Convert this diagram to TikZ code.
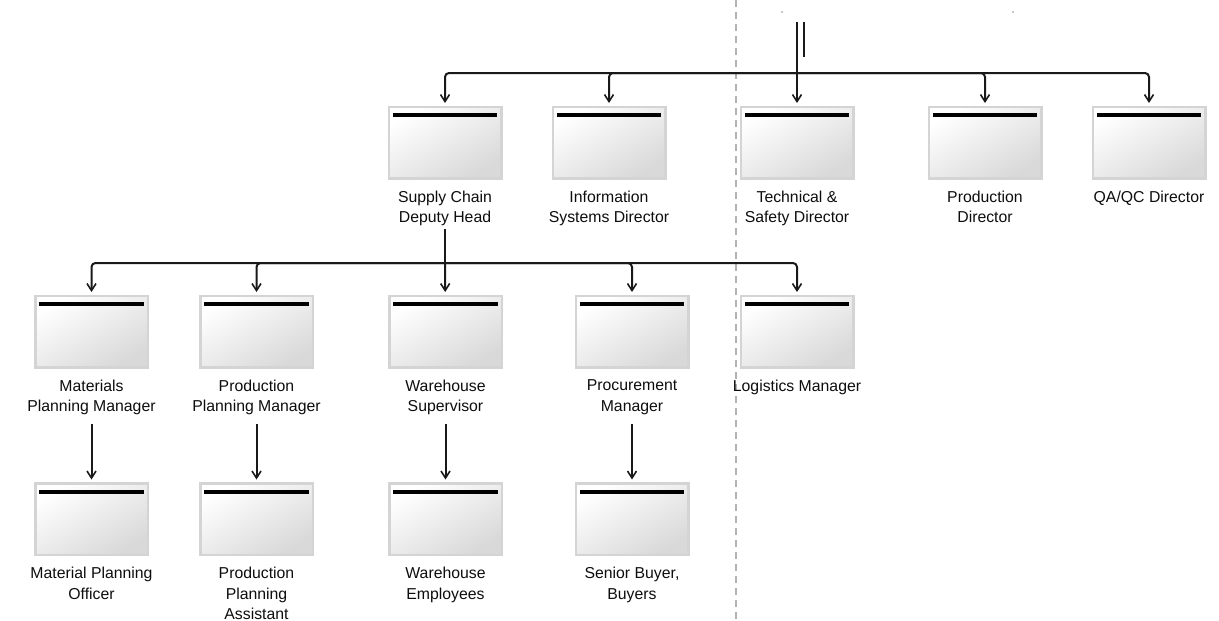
\documentclass[tikz,border=0pt]{standalone}
\usepackage{fontspec}
\setmainfont{Liberation Sans}
\usetikzlibrary{arrows.meta}

\tikzset{
  role/.style={draw=black!17, line width=2.5pt, minimum width=112.5pt,
    minimum height=71.5pt, inner sep=0pt,
    top color=white, bottom color=black!15, shading angle=30,
    path picture={\draw[line width=4.2pt, black]
      ([xshift=4pt,yshift=-8.5pt]path picture bounding box.north west) --
      ([xshift=-4pt,yshift=-8.5pt]path picture bounding box.north east);}},
  caption/.style={anchor=north, align=center, inner sep=0pt, text=black!95,
    font=\fontsize{15.8}{20.5}\selectfont},
  conn/.style={draw=black!90, line width=2pt, rounded corners=4pt},
  link/.style={conn, -{Straight Barb[length=7pt,width=9pt,line width=1.6pt]}, shorten >=2.5pt},
  divider/.style={draw=black!30, line width=1.2pt, dash pattern=on 7pt off 5pt}
}

\begin{document}
\begin{tikzpicture}[x=1pt,y=-1pt]
\useasboundingbox (0,0) rectangle (1219,621);

% boundary between the two halves of the chart
\coordinate (divtop) at (736,0);
\coordinate (divbot) at (736,621);
\draw[divider] (divtop) -- (divbot);

% remnants of labels cut off above
\fill[black!45] (782,12) circle (0.9pt);
\fill[black!45] (1013,12) circle (0.9pt);

% directors
\node[role] (scd) at (445,142.5) {};
\node[role] (isd) at (609,142.5) {};
\node[role] (tsd) at (797,142.5) {};
\node[role] (prd) at (985,142.5) {};
\node[role] (qad) at (1149,142.5) {};

% managers
\node[role] (mpm) at (91.5,331.5) {};
\node[role] (ppm) at (256.5,331.5) {};
\node[role] (whs) at (445.5,331.5) {};
\node[role] (pcm) at (632,331.5) {};
\node[role] (lgm) at (797,331.5) {};

% staff
\node[role] (mpo) at (91.5,519) {};
\node[role] (ppa) at (256.5,519) {};
\node[role] (whe) at (445.5,519) {};
\node[role] (sbb) at (632,519) {};

% captions
\node[caption] (scd-l) at ([yshift=-11pt]scd.south) {Supply Chain\\Deputy Head};
\node[caption] (isd-l) at ([yshift=-11pt]isd.south) {Information\\Systems Director};
\node[caption] (tsd-l) at ([yshift=-11pt]tsd.south) {Technical \&\\Safety Director};
\node[caption] (prd-l) at ([yshift=-11pt]prd.south) {Production\\Director};
\node[caption] (qad-l) at ([yshift=-11pt]qad.south) {QA/QC Director};

\node[caption] (mpm-l) at ([yshift=-11pt]mpm.south) {Materials\\Planning Manager};
\node[caption] (ppm-l) at ([yshift=-11pt]ppm.south) {Production\\Planning Manager};
\node[caption] (whs-l) at ([yshift=-11pt]whs.south) {Warehouse\\Supervisor};
\node[caption] (pcm-l) at ([yshift=-11pt]pcm.south) {Procurement\\Manager};
\node[caption] (lgm-l) at ([yshift=-11pt]lgm.south) {Logistics Manager};

\node[caption] (mpo-l) at ([yshift=-11pt]mpo.south) {Material Planning\\Officer};
\node[caption] (ppa-l) at ([yshift=-11pt]ppa.south) {Production\\Planning\\Assistant};
\node[caption] (whe-l) at ([yshift=-11pt]whe.south) {Warehouse\\Employees};
\node[caption] (sbb-l) at ([yshift=-11pt]sbb.south) {Senior Buyer,\\Buyers};

% reporting line coming from above
\coordinate (feedA) at (797,22);
\coordinate (feedB) at (803.5,22);
\coordinate (feedBend) at (803.5,57);
\coordinate (bus1) at (797,73);
\draw[conn] (feedA) -- (bus1);
\draw[conn] (feedB) -- (feedBend);

\draw[link] (bus1) -| (scd);
\draw[link] (bus1) -| (isd);
\draw[link] (bus1) -- (tsd);
\draw[link] (bus1) -| (prd);
\draw[link] (bus1) -| (qad);

% supply chain department
\coordinate (bus2) at (445,263);
\draw[conn] ([yshift=-3pt]scd-l.south) -- (bus2);
\draw[link] (bus2) -| (mpm);
\draw[link] (bus2) -| (ppm);
\draw[link] (bus2) -- (whs);
\draw[link] (bus2) -| (pcm);
\draw[link] (bus2) -| (lgm);

% teams
\draw[link] ([yshift=-9pt]mpm-l.south) -- (mpo);
\draw[link] ([yshift=-9pt]ppm-l.south) -- (ppa);
\draw[link] ([yshift=-9pt]whs-l.south) -- (whe);
\draw[link] ([yshift=-9pt]pcm-l.south) -- (sbb);
\end{tikzpicture}
\end{document}
